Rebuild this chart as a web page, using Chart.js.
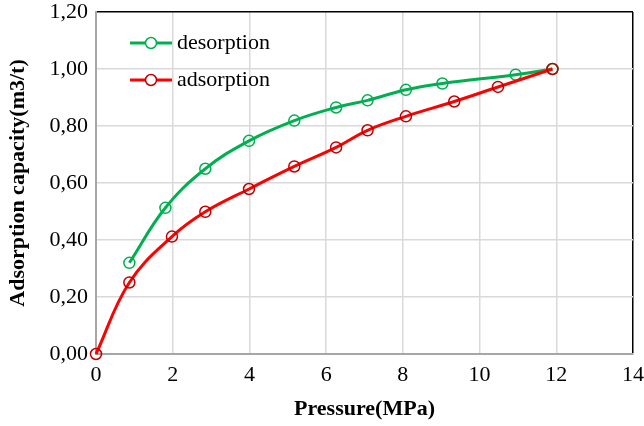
<!DOCTYPE html>
<html>
<head>
<meta charset="utf-8">
<script src="https://cdn.jsdelivr.net/npm/chart.js@4/dist/chart.umd.min.js"></script>
<style>
  html, body { margin: 0; padding: 0; background: #fff; }
  #wrap { width: 644px; height: 426px; }
</style>
</head>
<body>
<div id="wrap"><canvas id="isotherm-chart"></canvas></div>
<script>
// values
const desorpX = [0.87, 1.81, 2.85, 3.99, 5.17, 6.26, 7.08, 8.08, 9.03, 10.94, 11.90];
const desorpY = [0.320, 0.513, 0.650, 0.748, 0.819, 0.865, 0.890, 0.927, 0.949, 0.980, 1.000];
const adsorpX = [0, 0.87, 1.98, 2.85, 3.99, 5.17, 6.26, 7.08, 8.08, 9.34, 10.48, 11.90];
const adsorpY = [0, 0.251, 0.412, 0.499, 0.579, 0.658, 0.725, 0.785, 0.834, 0.886, 0.937, 1.000];

const seriesNames = ['desorption', 'adsorption'];
const xTicks = [0, 2, 4, 6, 8, 10, 12, 14];
const yTickLabels = ['0,00', '0,20', '0,40', '0,60', '0,80', '1,00', '1,20'];

const FONT = "'Liberation Serif', 'Times New Roman', serif";

function toPoints(xs, ys) {
    return xs.map((x, i) => ({ x: x, y: ys[i] }));
}

// legend drawn inside the plot, top-left
const innerLegend = {
    id: 'innerLegend',
    afterDraw(chart) {
        const ctx = chart.ctx;
        const area = chart.chartArea;
        const sets = [chart.data.datasets[0], chart.data.datasets[1]];
        ctx.save();
        sets.forEach((ds, i) => {
            const y = area.top + 31 + i * 37;
            const x0 = area.left + 34;
            ctx.strokeStyle = ds.borderColor;
            ctx.lineWidth = ds.borderWidth;
            ctx.beginPath();
            ctx.moveTo(x0, y);
            ctx.lineTo(x0 + 42, y);
            ctx.stroke();
            ctx.fillStyle = '#fff';
            ctx.strokeStyle = ds.pointBorderColor;
            ctx.lineWidth = ds.pointBorderWidth;
            ctx.beginPath();
            ctx.arc(x0 + 21, y, ds.pointRadius, 0, Math.PI * 2);
            ctx.fill();
            ctx.stroke();
            ctx.fillStyle = '#000';
            ctx.font = '22px ' + FONT;
            ctx.textBaseline = 'middle';
            ctx.fillText(ds.label, x0 + 47, y);
        });
        ctx.restore();
    }
};

const isothermChart = document.querySelector('#isotherm-chart').getContext('2d');

const isothermGraph = new Chart(isothermChart, {
    type: 'scatter',
    data: {
        datasets: [
            {
                label: seriesNames[0],
                data: toPoints(desorpX, desorpY),
                showLine: true,
                tension: 0.4,
                borderColor: '#00b050',
                borderWidth: 3,
                pointRadius: 5.5,
                pointBorderColor: '#00b050',
                pointBackgroundColor: 'rgba(255,255,255,0)',
                pointBorderWidth: 1.5,
                clip: false,
                order: 1
            },
            {
                label: seriesNames[1],
                data: toPoints(adsorpX, adsorpY),
                showLine: true,
                tension: 0.4,
                borderColor: '#ff0000',
                borderWidth: 3,
                pointRadius: 5.5,
                pointBorderColor: '#c00000',
                pointBackgroundColor: 'rgba(255,255,255,0)',
                pointBorderWidth: 1.5,
                clip: false,
                order: 0
            }
        ]
    },
    options: {
        responsive: true,
        maintainAspectRatio: false,
        animation: false,
        layout: { padding: { top: 12, right: 11, left: 0, bottom: 0 } },
        plugins: {
            legend: { display: false },
            tooltip: { enabled: false }
        },
        scales: {
            x: {
                type: 'linear',
                min: 0,
                max: 14,
                afterBuildTicks: (scale) => { scale.ticks = xTicks.map(v => ({ value: v })); },
                afterFit: (scale) => {
                    scale.height = 72;
                    scale.paddingLeft = 0;
                    scale.paddingRight = 0;
                },
                grid: {
                    color: (c) => (c.tick && c.tick.value === 14 ? '#000' : '#d9d9d9'),
                    lineWidth: 1.5,
                    drawTicks: false
                },
                border: { color: '#a6a6a6', width: 2 },
                ticks: {
                    color: '#000',
                    padding: 8,
                    font: { family: FONT, size: 22 }
                },
                title: {
                    display: true,
                    text: 'Pressure(MPa)',
                    color: '#000',
                    padding: { top: 0, bottom: 3 },
                    font: { family: FONT, size: 22, weight: 'bold' }
                }
            },
            y: {
                type: 'linear',
                min: 0,
                max: 1.2,
                afterBuildTicks: (scale) => { scale.ticks = yTickLabels.map((t, i) => ({ value: i * 0.2 })); },
                afterFit: (scale) => {
                    scale.width = 96;
                    scale.paddingTop = 0;
                    scale.paddingBottom = 0;
                },
                grid: {
                    color: (c) => (c.tick && Math.abs(c.tick.value - 1.2) < 1e-6 ? '#000' : '#d9d9d9'),
                    lineWidth: 1.5,
                    drawTicks: false
                },
                border: { color: '#a6a6a6', width: 2 },
                ticks: {
                    color: '#000',
                    padding: 8,
                    font: { family: FONT, size: 22 },
                    callback: (v, i) => yTickLabels[i]
                },
                title: {
                    display: true,
                    text: 'Adsorption capacity(m3/t)',
                    color: '#000',
                    padding: { top: 5, bottom: 0 },
                    font: { family: FONT, size: 22, weight: 'bold' }
                }
            }
        }
    },
    plugins: [innerLegend]
});
</script>
</body>
</html>
